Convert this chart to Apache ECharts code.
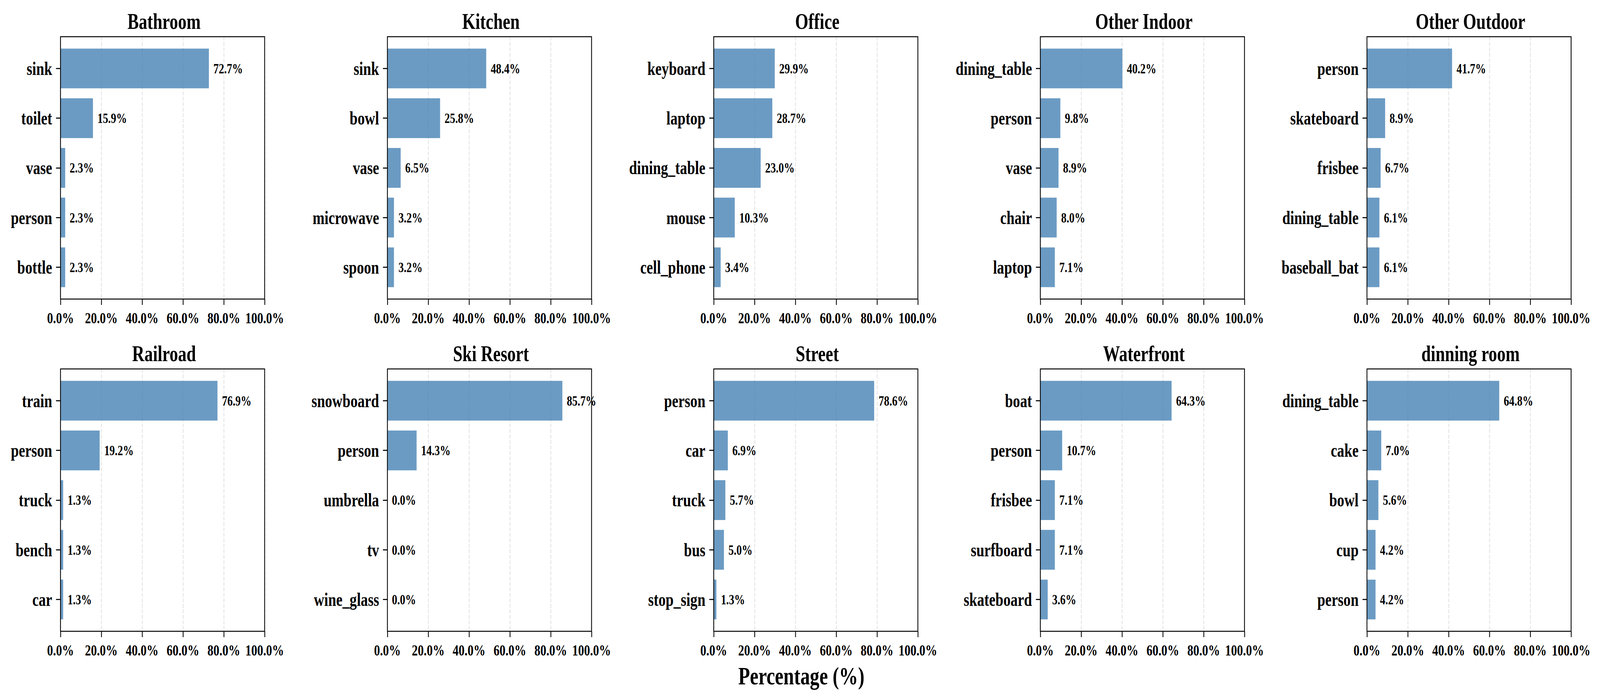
<!DOCTYPE html>
<html>
<head>
<meta charset="utf-8">
<script src="https://cdn.jsdelivr.net/npm/echarts@6/dist/echarts.min.js"></script>
<style>
html,body{margin:0;padding:0;background:#fff;overflow:hidden;}
#chart{width:5369px;height:1793px;transform-origin:0 0;}
</style>
</head>
<body>
<div id="chart"></div>
<script>
const panelTitles = ["Bathroom", "Kitchen", "Office", "Other Indoor", "Other Outdoor",
                     "Railroad", "Ski Resort", "Street", "Waterfront", "dinning room"];

const catsBathroom = ["sink", "toilet", "vase", "person", "bottle"];
const valsBathroom = [72.7, 15.9, 2.3, 2.3, 2.3];
const catsKitchen = ["sink", "bowl", "vase", "microwave", "spoon"];
const valsKitchen = [48.4, 25.8, 6.5, 3.2, 3.2];
const catsOffice = ["keyboard", "laptop", "dining_table", "mouse", "cell_phone"];
const valsOffice = [29.9, 28.7, 23.0, 10.3, 3.4];
const catsOtherIndoor = ["dining_table", "person", "vase", "chair", "laptop"];
const valsOtherIndoor = [40.2, 9.8, 8.9, 8.0, 7.1];
const catsOtherOutdoor = ["person", "skateboard", "frisbee", "dining_table", "baseball_bat"];
const valsOtherOutdoor = [41.7, 8.9, 6.7, 6.1, 6.1];
const catsRailroad = ["train", "person", "truck", "bench", "car"];
const valsRailroad = [76.9, 19.2, 1.3, 1.3, 1.3];
const catsSkiResort = ["snowboard", "person", "umbrella", "tv", "wine_glass"];
const valsSkiResort = [85.7, 14.3, 0.0, 0.0, 0.0];
const catsStreet = ["person", "car", "truck", "bus", "stop_sign"];
const valsStreet = [78.6, 6.9, 5.7, 5.0, 1.3];
const catsWaterfront = ["boat", "person", "frisbee", "surfboard", "skateboard"];
const valsWaterfront = [64.3, 10.7, 7.1, 7.1, 3.6];
const catsDinningRoom = ["dining_table", "cake", "bowl", "cup", "person"];
const valsDinningRoom = [64.8, 7.0, 5.6, 4.2, 4.2];

const xTickValues = [0, 20, 40, 60, 80, 100];
const xAxisTitle = "Percentage (%)";

const panelCats = [catsBathroom, catsKitchen, catsOffice, catsOtherIndoor, catsOtherOutdoor,
                   catsRailroad, catsSkiResort, catsStreet, catsWaterfront, catsDinningRoom];
const panelVals = [valsBathroom, valsKitchen, valsOffice, valsOtherIndoor, valsOtherOutdoor,
                   valsRailroad, valsSkiResort, valsStreet, valsWaterfront, valsDinningRoom];

const FONT = '"Liberation Serif", "Times New Roman", serif';

// scale the fixed-size design to whatever viewport the page actually gets
const el = document.getElementById('chart');
const vw = window.innerWidth || 5369, vh = window.innerHeight || 1793;
el.style.transform = 'scale(' + (vw / 5369) + ',' + (vh / 1793) + ')';

const chart = echarts.init(el, null, {renderer: 'svg', width: 5369, height: 1793});

const lefts = [203, 1300, 2395, 3491, 4587];
const tops = [94, 945];
const W = 685, H = 672;
const unit = H / 5.28;
const pad = 0.14 * unit;

const option = {
  animation: false,
  backgroundColor: '#ffffff',
  title: [],
  grid: [],
  xAxis: [],
  yAxis: [],
  series: []
};

for (let i = 0; i < 10; i++) {
  const r = Math.floor(i / 5), c = i % 5;
  const L = lefts[c], T = tops[r];
  option.title.push({
    text: panelTitles[i],
    left: L + W / 2,
    top: T - 73,
    textAlign: 'center',
    textStyle: {fontFamily: FONT, fontWeight: 'bold', fontSize: 57, color: '#000'}
  });
  option.grid.push({left: L, top: T, width: W, height: H, show: true,
    borderColor: '#000', borderWidth: 2.7, backgroundColor: 'transparent', z: 5});
  option.grid.push({left: L, top: T + pad, width: W, height: H - 2 * pad});
  option.xAxis.push({
    gridIndex: 2 * i, type: 'value', min: xTickValues[0], max: xTickValues[xTickValues.length - 1],
    interval: xTickValues[1] - xTickValues[0],
    axisLine: {show: false},
    axisTick: {show: true, length: 15, lineStyle: {color: '#000', width: 2.7}},
    axisLabel: {formatter: v => v.toFixed(1) + '%', fontFamily: FONT, fontWeight: 'bold',
      fontSize: 40, color: '#000', margin: 28},
    splitLine: {show: true, lineStyle: {type: [10, 4], color: '#e5e5e5', width: 3}}
  });
  option.yAxis.push({gridIndex: 2 * i, type: 'value', show: false, min: 0, max: 1});
  option.xAxis.push({gridIndex: 2 * i + 1, type: 'value', min: 0, max: 100, show: false});
  option.yAxis.push({
    gridIndex: 2 * i + 1, type: 'category', inverse: true, data: panelCats[i],
    axisLine: {show: false},
    axisTick: {show: true, alignWithLabel: true, length: 15, lineStyle: {color: '#000', width: 2.7}},
    axisLabel: {fontFamily: FONT, fontWeight: 'bold', fontSize: 48, color: '#000', margin: 28}
  });
  option.series.push({
    type: 'bar', xAxisIndex: 2 * i + 1, yAxisIndex: 2 * i + 1,
    data: panelVals[i], barCategoryGap: '20%',
    itemStyle: {color: 'rgba(70,130,180,0.8)'},
    label: {show: true, position: 'right', distance: 15,
      formatter: p => p.value.toFixed(1) + '%',
      fontFamily: FONT, fontWeight: 'bold', fontSize: 36, color: '#000'}
  });
}

option.title.push({
  text: xAxisTitle, left: 2684, top: 1694, textAlign: 'center',
  textStyle: {fontFamily: FONT, fontWeight: 'bold', fontSize: 64, color: '#000'}
});

chart.setOption(option);
</script>
</body>
</html>
